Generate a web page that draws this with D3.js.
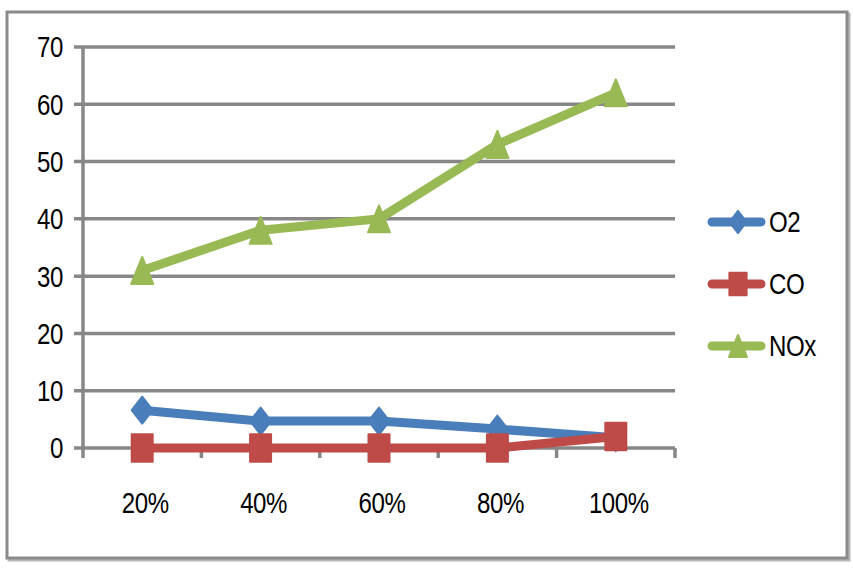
<!DOCTYPE html>
<html><head><meta charset="utf-8">
<script src="https://cdn.jsdelivr.net/npm/d3@7"></script>
<style>body{margin:0;background:#fff}svg text{font-family:"Liberation Sans",Arial,sans-serif;fill:#000}</style>
</head><body><svg id="c" width="853" height="573"></svg>
<script>
const categories = ["20%","40%","60%","80%","100%"];
const o2  = [6.6, 4.7, 4.7, 3.3, 1.8];
const co  = [0, 0, 0, 0, 2];
const nox = [31, 38, 40, 53, 62];
const yTicks = [0,10,20,30,40,50,60,70];
const seriesNames = ["O2","CO","NOx"];

const svg = d3.select("#c");
const gridColor = "#878787";
// outer frame
svg.append("rect").attr("x",8).attr("y",13).attr("width",840).attr("height",546)
  .attr("fill","none").attr("stroke","#b8b8b8").attr("stroke-width",3).attr("transform","translate(1,1)");
svg.append("rect").attr("x",7).attr("y",12).attr("width",840).attr("height",546)
  .attr("fill","#fff").attr("stroke","#8a8a8a").attr("stroke-width",3);

const x = d3.scaleBand().domain(categories).range([83,675]);
const y = d3.scaleLinear().domain([0,70]).range([448,47]);

svg.append("g").selectAll("line").data(yTicks).join("line")
  .attr("x1",74).attr("x2",675).attr("y1",d=>y(d)).attr("y2",d=>y(d))
  .attr("stroke",gridColor).attr("stroke-width",3.5);
svg.append("line").attr("x1",83).attr("x2",83).attr("y1",y(70)).attr("y2",y(0)+10)
  .attr("stroke",gridColor).attr("stroke-width",3.5);
const xb = categories.map(c=>x(c)).concat([x.range()[1]]);
svg.append("g").selectAll("line").data(xb.slice(1)).join("line")
  .attr("x1",d=>d).attr("x2",d=>d).attr("y1",y(0)).attr("y2",y(0)+10)
  .attr("stroke",gridColor).attr("stroke-width",3.5);

const SX = 0.83, FS = 29;
// y labels
svg.append("g").selectAll("text").data(yTicks).join("text")
  .attr("transform",d=>`translate(63,${y(d)}) scale(${SX},1)`).attr("dy","0.36em").attr("text-anchor","end")
  .attr("font-size",FS).attr("letter-spacing",-0.5).text(d=>d);
// x labels
svg.append("g").selectAll("text").data(categories).join("text")
  .attr("transform",d=>`translate(${x(d)+x.bandwidth()/2+3},503) scale(${SX},1)`).attr("dy","0.36em").attr("text-anchor","middle")
  .attr("font-size",FS).attr("letter-spacing",-0.5).text(d=>d);

const colors = ["#4A7EBB","#BE4B48","#98B954"];
const data = [o2, co, nox];
const cx = c => x(c)+x.bandwidth()/2;
const line = d3.line().x((d,i)=>cx(categories[i])).y(d=>y(d));

function marker(k, s){
  const w = 10.5*s, h = 13.5*s;
  if(k===0){ return `M0,${-h}L${w},0L0,${h}L${-w},0Z`; }
  if(k===1){ return `M${-w},${-h*1.02}H${w}V${h*1.02}H${-w}Z`; }
  return `M0,${-h}L${w*1.05},${h}L${-w*1.05},${h}Z`;
}

data.forEach((vals,k)=>{
  svg.append("path").attr("d",line(vals)).attr("fill","none")
    .attr("stroke",colors[k]).attr("stroke-width",9).attr("stroke-linejoin","round");
  svg.append("g").selectAll("path").data(vals).join("path")
    .attr("transform",(d,i)=>`translate(${cx(categories[i])},${y(d)})`)
    .attr("d",marker(k,1)).attr("fill",colors[k])
    .attr("stroke",colors[k]).attr("stroke-width",2).attr("stroke-linejoin","round");
});

// legend
const ly = [222, 284, 346];
seriesNames.forEach((n,k)=>{
  svg.append("line").attr("x1",712).attr("x2",761).attr("y1",ly[k]).attr("y2",ly[k])
    .attr("stroke",colors[k]).attr("stroke-width",9).attr("stroke-linecap","round");
  svg.append("path").attr("transform",`translate(738,${ly[k]})`)
    .attr("d",marker(k,0.82)).attr("fill",colors[k])
    .attr("stroke",colors[k]).attr("stroke-width",2).attr("stroke-linejoin","round");
  svg.append("text").attr("transform",`translate(769,${ly[k]}) scale(${SX},1)`).attr("dy","0.36em")
    .attr("font-size",FS).attr("letter-spacing",-0.5).text(n);
});
</script></body></html>
